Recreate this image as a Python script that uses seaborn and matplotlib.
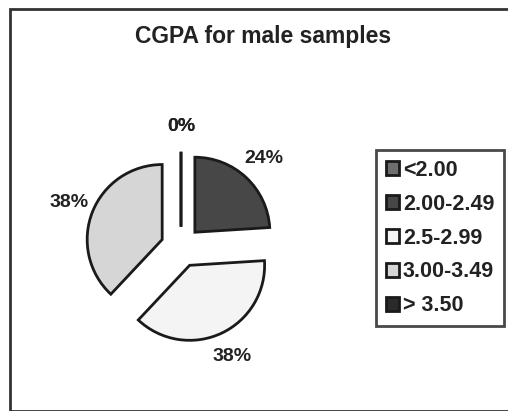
import matplotlib
matplotlib.use("Agg")
import matplotlib.pyplot as plt
import seaborn as sns
from matplotlib.patches import Rectangle

# CGPA bands and share of male samples (%)
categories = ["<2.00", "2.00-2.49", "2.5-2.99", "3.00-3.49", "> 3.50"]
percent = [0, 24, 38, 38, 0]
shades = ["#6e6e6e", "#474747", "#f4f4f4", "#d6d6d6", "#2a2a2a"]

sns.set_theme(style="white")
plt.rcParams['font.family'] = ['Liberation Sans', 'DejaVu Sans']

fig = plt.figure(figsize=(5.08, 4.11), dpi=100)
ax = fig.add_axes([31 / 508, 14 / 411, 300 / 508, 300 / 411])

wedges, _, pcts = ax.pie(
    percent,
    explode=[0.27] * len(percent),
    colors=shades,
    startangle=90,
    counterclock=False,
    autopct='%d%%',
    pctdistance=1.34,
    wedgeprops=dict(edgecolor='#1a1a1a', linewidth=2),
    textprops=dict(fontsize=14, fontweight='bold', color='#222222'),
)
ax.set_xlim(-2, 2)
ax.set_ylim(-2, 2)

fig.text(263 / 508, 1 - 37 / 411, 'CGPA for male samples', ha='center', va='center',
         fontsize=16.5, fontweight='bold', color='#222222')

leg = ax.legend(wedges, categories, loc='upper left',
                bbox_to_anchor=(376 / 508, 1 - 150 / 411), bbox_transform=fig.transFigure,
                borderaxespad=0, frameon=True, fancybox=False, edgecolor='#1a1a1a',
                prop=dict(size=15.5, weight='bold'), handlelength=0.6, handleheight=0.6,
                handletextpad=0.2, labelspacing=0.6, borderpad=0.45)
leg.get_frame().set_linewidth(2)
for t in leg.get_texts():
    t.set_color('#222222')

# outer chart border
fig.patches.append(Rectangle((10 / 508, 0.5 / 411), 1.0, 1 - 9.5 / 411, transform=fig.transFigure,
                             fill=False, lw=2, edgecolor='#333333'))

fig.savefig('out.png', dpi=100)
